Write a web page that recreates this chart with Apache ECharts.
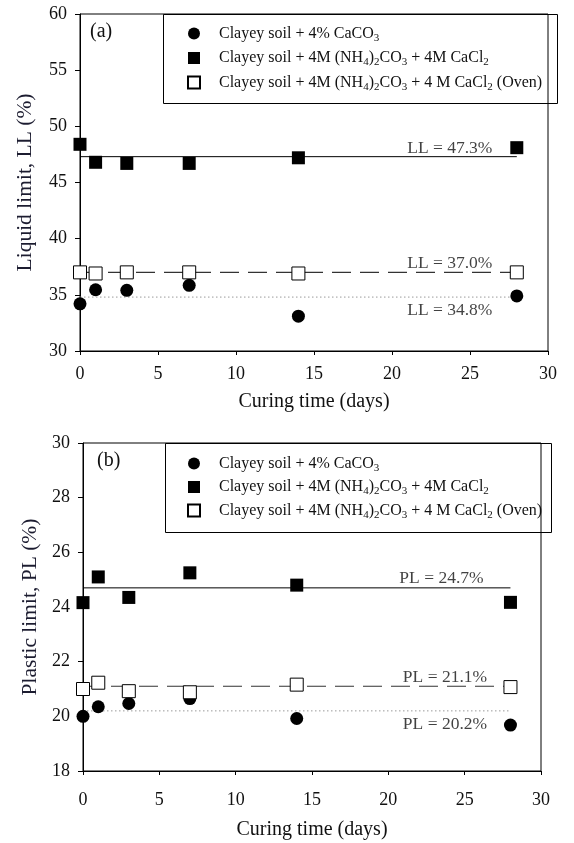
<!DOCTYPE html>
<html><head><meta charset="utf-8">
<script src="https://cdn.jsdelivr.net/npm/echarts@6/dist/echarts.min.js"></script>
<style>html,body{margin:0;padding:0;background:#fff}#c{width:574px;height:843px}</style>
</head><body><div id="c"></div>
<script>
// ---- data ----
const days = [0, 1, 3, 7, 14, 28];
const seriesNames = [
  'Clayey soil + 4% CaCO3',
  'Clayey soil + 4M (NH4)2CO3 + 4M CaCl2',
  'Clayey soil + 4M (NH4)2CO3 + 4 M CaCl2 (Oven)'
];
const llCaCO3 = [34.2, 35.45, 35.4, 35.85, 33.1, 34.9];
const llNH4   = [48.4, 46.8, 46.7, 46.7, 47.2, 48.1];
const llOven  = [37.0, 36.9, 37.0, 37.0, 36.9, 37.0];
const plCaCO3 = [20.0, 20.35, 20.47, 20.65, 19.92, 19.68];
const plNH4   = [24.16, 25.1, 24.35, 25.25, 24.8, 24.17];
const plOven  = [21.0, 21.23, 20.92, 20.88, 21.16, 21.07];
const fitDays = [0, 28];
const llFit = [34.8, 47.3, 37.0];   // CaCO3, NH4, Oven
const plFit = [20.2, 24.7, 21.1];
const xTicks  = [0, 5, 10, 15, 20, 25, 30];
const llTicks = [30, 35, 40, 45, 50, 55, 60];
const plTicks = [18, 20, 22, 24, 26, 28, 30];
const panelLabels = ['(a)', '(b)'];
const xTitle = 'Curing time (days)';
const yTitles = ['Liquid limit, LL (%)', 'Plastic limit, PL (%)'];
const fitPrefix = ['LL', 'PL'];

// ---- styling ----
const FF = '"Liberation Serif", "Times New Roman", serif';
const TXT = '#111';
const markerStyles = [
  {symbol: 'circle', itemStyle: {color: '#000', opacity: 1}},
  {symbol: 'rect', itemStyle: {color: '#000', opacity: 1}},
  {symbol: 'rect', itemStyle: {color: '#fff', borderColor: '#000', borderWidth: 1, opacity: 1}}
];
const lineStyles = [
  {color: '#9a9a9a', width: 1, type: [1.5, 2.5]},
  {color: '#000', width: 1, type: 'solid'},
  {color: '#333', width: 1.2, type: [19, 9]}
];
const labelOffsets = [
  [[-67, 13], [-67, -8], [-67, -8.5]],
  [[-65.5, 14], [-69, -9], [-65.5, -9]]
];

const panels = [
  {data: [llCaCO3, llNH4, llOven], fit: llFit, ticks: llTicks,
   grid: {left: 80, top: 14, width: 468, height: 337},
   xLabelMargin: 14, xNameGap: 41, yNameGap: 44,
   legend: {left: 187, top: 25.5, itemGap: 6.5},
   box: {x: 163.5, y: 14.5, width: 394, height: 89},
   title: {left: 90, top: 22}},
  {data: [plCaCO3, plNH4, plOven], fit: plFit, ticks: plTicks,
   grid: {left: 83, top: 443, width: 458, height: 328},
   xLabelMargin: 20, xNameGap: 49, yNameGap: 42,
   legend: {left: 187, top: 455.5, itemGap: 5.5},
   box: {x: 165.5, y: 443.5, width: 386, height: 89},
   title: {left: 97, top: 451}}
];

const grids = [], xAxes = [], yAxes = [], series = [], legends = [], titles = [], graphics = [];
panels.forEach((p, i) => {
  grids.push(Object.assign({show: true, borderColor: '#000', borderWidth: 1, backgroundColor: 'transparent'}, p.grid));
  xAxes.push({
    type: 'value', gridIndex: i, min: xTicks[0], max: xTicks[xTicks.length - 1], interval: xTicks[1] - xTicks[0],
    name: xTitle, nameLocation: 'middle', nameGap: p.xNameGap,
    nameTextStyle: {fontFamily: FF, fontSize: 20, color: TXT},
    axisLine: {lineStyle: {color: '#000', width: 1}},
    axisTick: {show: true, inside: false, length: 4, lineStyle: {color: '#000'}},
    axisLabel: {fontFamily: FF, fontSize: 18, color: TXT, margin: p.xLabelMargin},
    splitLine: {show: false}
  });
  yAxes.push({
    type: 'value', gridIndex: i, min: p.ticks[0], max: p.ticks[p.ticks.length - 1], interval: p.ticks[1] - p.ticks[0],
    name: yTitles[i], nameLocation: 'middle', nameGap: p.yNameGap, nameRotate: 90,
    nameTextStyle: {fontFamily: FF, fontSize: 21.5, color: '#1c1c30'},
    axisLine: {show: true, lineStyle: {color: '#000', width: 1}},
    axisTick: {show: true, inside: false, length: 5, lineStyle: {color: '#000'}},
    axisLabel: {fontFamily: FF, fontSize: 18, color: TXT, margin: 13},
    splitLine: {show: false}
  });
  // fitted mean lines
  p.fit.forEach((m, k) => {
    series.push({
      type: 'line', xAxisIndex: i, yAxisIndex: i, silent: true, z: 2,
      data: fitDays.map(d => [d, m]), symbol: 'none', lineStyle: lineStyles[k]
    });
  });
  // data markers
  p.data.forEach((vals, k) => {
    series.push({
      type: 'scatter', name: seriesNames[k], xAxisIndex: i, yAxisIndex: i, z: 3 + k,
      symbol: markerStyles[k].symbol, symbolSize: 13, itemStyle: markerStyles[k].itemStyle,
      emphasis: {disabled: true},
      data: days.map((d, j) => [d, vals[j]])
    });
  });
  // annotation labels at the end of each mean line
  series.push({
    type: 'scatter', xAxisIndex: i, yAxisIndex: i, silent: true, z: 10,
    symbol: 'circle', symbolSize: 0.1, itemStyle: {color: 'transparent'},
    data: p.fit.map((m, k) => ({
      value: [fitDays[1], m],
      label: {show: true, position: 'inside', offset: labelOffsets[i][k],
              formatter: fitPrefix[i] + ' = ' + m.toFixed(1) + '%',
              fontFamily: FF, fontSize: 17.5, color: '#111'}
    }))
  });
  legends.push({
    data: seriesNames, orient: 'vertical', left: p.legend.left, top: p.legend.top,
    itemGap: p.legend.itemGap, itemWidth: 12, itemHeight: 12, padding: 0, selectedMode: false,
    formatter: name => '{n|' + name.replace(/([A-Za-z\)])(\d)/g, '$1}{s|$2}{n|') + '}',
    textStyle: {
      padding: [0, 0, 0, 14],
      rich: {
        n: {fontFamily: FF, fontSize: 16, lineHeight: 16, verticalAlign: 'top', color: TXT},
        s: {fontFamily: FF, fontSize: 11, lineHeight: 11, verticalAlign: 'top', padding: [7, 0, 0, 0], color: TXT}
      }
    }
  });
  titles.push({text: panelLabels[i], left: p.title.left, top: p.title.top, padding: 0,
    textStyle: {fontFamily: FF, fontSize: 20, fontWeight: 'normal', color: TXT}});
  graphics.push({type: 'rect', shape: p.box, style: {fill: 'none', stroke: '#000', lineWidth: 1}, z: 100, silent: true});
});

const chart = echarts.init(document.getElementById('c'), null, {renderer: 'canvas'});
chart.setOption({
  animation: false,
  backgroundColor: '#fff',
  title: titles,
  grid: grids,
  xAxis: xAxes,
  yAxis: yAxes,
  legend: legends,
  graphic: graphics,
  series: series
});
</script>
</body></html>
